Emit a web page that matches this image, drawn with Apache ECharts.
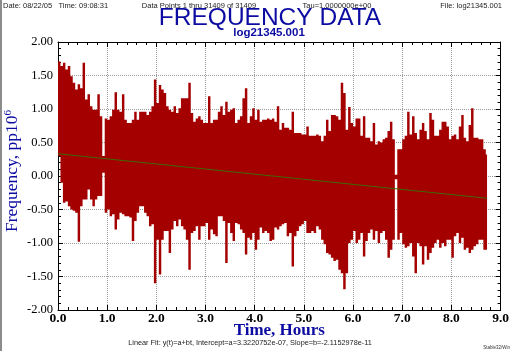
<!DOCTYPE html>
<html>
<head>
<meta charset="utf-8">
<script src="https://cdn.jsdelivr.net/npm/echarts@6/dist/echarts.min.js"></script>
<style>
html,body{margin:0;padding:0;background:#fff;}
#chart{width:512px;height:351px;}
</style>
</head>
<body>
<div id="chart"></div>
<script>
// ---- data ----
const BIN = 0.05;          // hours per envelope bin
const T_END = 8.725;       // last data time, hours
// upper envelope per bin (pp10^6)
const hiVals = [
 1.71,1.64,1.69,1.59,1.64,1.49,1.39,1.29,1.37,1.31,
 1.69,1.14,1.22,1.04,0.99,0.99,1.22,0.89,0.30,0.86,
 0.84,0.89,0.99,1.25,0.99,0.96,1.22,0.84,0.79,0.79,
 0.84,0.96,0.84,0.96,0.96,0.96,0.91,0.96,1.04,1.44,
 1.09,1.36,1.29,1.24,1.04,0.99,0.96,1.04,0.94,1.01,
 1.16,1.16,1.16,1.39,0.94,0.81,0.86,0.89,0.84,0.79,
 0.79,1.19,0.79,0.84,0.84,0.96,1.04,0.91,1.11,0.96,
 0.99,1.01,0.79,0.84,0.89,1.16,1.31,0.79,0.89,1.01,
 0.84,0.99,0.81,0.84,0.84,0.86,0.84,0.86,0.81,1.04,
 0.69,0.79,0.72,0.72,0.69,0.96,0.64,0.64,0.64,0.62,
 0.62,0.74,0.60,0.60,0.60,0.62,0.60,0.52,0.60,0.84,
 0.67,0.91,0.91,0.89,0.84,1.39,1.24,0.69,1.03,0.79,
 0.74,0.86,0.86,0.60,0.89,0.57,0.57,0.52,0.79,0.47,
 0.52,0.50,0.55,0.57,0.67,0.81,0.55,0.02,0.40,0.40,
 0.55,0.60,0.96,0.62,0.89,0.64,0.55,0.69,0.79,0.67,
 0.55,0.94,0.84,0.60,0.60,0.69,0.81,0.81,0.74,0.55,
 0.60,0.62,0.55,0.74,0.91,0.57,0.52,0.76,1.01,0.57,
 0.57,0.55,0.55,0.40,0.32
];
// lower envelope per bin (pp10^6)
const loVals = [
 0.30,-0.10,-0.40,-0.38,-0.45,-0.50,-0.52,-0.55,-0.98,-0.45,
 -0.35,-0.35,-0.20,-0.35,-0.45,-0.35,-0.30,-0.30,0.05,-0.55,
 -0.50,-0.60,-0.57,-0.80,-0.65,-0.55,-0.57,-0.60,-0.60,-0.62,
 -0.97,-0.67,-0.55,-0.45,-0.45,-0.55,-0.60,-0.75,-0.72,-1.60,
 -0.95,-1.47,-0.95,-0.82,-0.82,-1.15,-0.80,-0.67,-0.75,-0.65,
 -0.75,-0.80,-0.95,-1.40,-0.85,-0.82,-0.75,-0.95,-0.75,-0.75,
 -0.70,-0.95,-0.80,-0.87,-0.90,-0.60,-0.60,-0.67,-1.30,-0.70,
 -0.85,-0.97,-0.70,-0.72,-0.80,-0.85,-1.17,-0.92,-0.95,-0.85,
 -1.10,-0.95,-0.77,-0.85,-0.82,-0.85,-0.97,-0.95,-0.77,-0.80,
 -0.75,-0.72,-0.70,-0.90,-0.85,-1.35,-0.90,-0.82,-0.75,-0.72,
 -0.67,-0.85,-0.85,-0.82,-0.85,-0.75,-0.80,-0.95,-1.02,-1.15,
 -1.17,-1.22,-1.27,-1.25,-1.40,-1.45,-1.69,-1.45,-1.00,-0.95,
 -0.82,-1.00,-0.95,-0.85,-1.20,-0.97,-0.85,-0.80,-0.95,-0.82,
 -1.00,-0.85,-0.82,-0.95,-1.22,-1.10,-0.95,-0.05,-0.95,-0.85,
 -1.02,-1.07,-1.05,-1.00,-1.20,-1.45,-1.00,-1.05,-1.32,-1.05,
 -1.25,-1.15,-1.07,-1.00,-0.95,-1.07,-1.00,-1.05,-0.95,-0.95,
 -1.22,-0.90,-0.85,-1.00,-0.92,-1.10,-1.07,-1.15,-1.10,-1.05,
 -1.02,-0.95,-0.95,-1.10,-1.10
];
// linear fit end points (hours, pp10^6)
const fitT = [0, 8.725];
const fitY = [0.332, -0.332];
// tick labels
const xTickLabels = ['0.0','1.0','2.0','3.0','4.0','5.0','6.0','7.0','8.0','9.0'];
const yTickLabels = ['-2.00','-1.50','-1.00','-0.50','0.00','0.50','1.00','1.50','2.00'];

// ---- build ----
const envelope = hiVals.map((h, i) => [+(BIN * (i + 0.5)).toFixed(3), h, loVals[i]]);
const fitData = fitT.map((t, i) => [t, fitY[i]]);

const BLUE = '#0c0ca2';
const chart = echarts.init(document.getElementById('chart'), null, {renderer: 'canvas'});

const gridLine = {show: true, lineStyle: {type: 'dotted', color: '#9a9a9a', width: 1}};
const axLine = {show: true, onZero: false, lineStyle: {color: '#000', width: 1}};
const tick = {show: true, inside: true, length: 5, lineStyle: {color: '#000'}};
const minor = {show: true, splitNumber: 5, length: 3, lineStyle: {color: '#000'}};

// the whole envelope drawn as one stepped polygon through the axes' scales
function renderEnvelope(params, api) {
  if (params.dataIndex !== 0) return null;
  const top = [], bottom = [];
  for (let i = 0; i < envelope.length; i++) {
    const t = envelope[i][0];
    const l = t - BIN / 2, r = Math.min(t + BIN / 2, T_END);
    top.push(api.coord([l, envelope[i][1]]), api.coord([r, envelope[i][1]]));
    bottom.push(api.coord([l, envelope[i][2]]), api.coord([r, envelope[i][2]]));
  }
  const pts = top.concat(bottom.reverse());
  return {type: 'polygon', shape: {points: pts}, style: {fill: '#a40000'}};
}

chart.setOption({
  animation: false,
  backgroundColor: '#fff',
  grid: {left: 58, top: 42, width: 444, height: 268, containLabel: false},
  xAxis: [
    {type: 'value', min: 0, max: 9, interval: 1, position: 'bottom', z: 1,
     axisLine: axLine, axisTick: tick, minorTick: minor, splitLine: gridLine,
     axisLabel: {formatter: v => xTickLabels[Math.round(v)], fontFamily: 'Liberation Serif',
                 fontWeight: 'bold', fontSize: 13.5, color: '#000', margin: 2},
     name: 'Time, Hours', nameLocation: 'middle', nameGap: 12, nameMoveOverlap: false,
     nameTextStyle: {fontFamily: 'Liberation Serif', fontWeight: 'bold', fontSize: 17, color: BLUE,
                     verticalAlign: 'top'}},
    {type: 'value', min: 0, max: 9, interval: 1, position: 'top', z: 1,
     axisLine: axLine, axisTick: tick, minorTick: minor, splitLine: {show: false},
     axisLabel: {show: false}}
  ],
  yAxis: [
    {type: 'value', min: -2, max: 2, interval: 0.5, position: 'left', z: 1,
     axisLine: axLine, axisTick: tick, minorTick: minor, splitLine: gridLine,
     axisLabel: {formatter: v => yTickLabels[Math.round((v + 2) / 0.5)], fontFamily: 'Liberation Serif',
                 fontSize: 12.5, color: '#000', margin: 5}},
    {type: 'value', min: -2, max: 2, interval: 0.5, position: 'right', z: 1,
     axisLine: axLine, axisTick: tick, minorTick: minor, splitLine: {show: false},
     axisLabel: {show: false}}
  ],
  series: [
    {type: 'custom', xAxisIndex: 0, yAxisIndex: 0, data: envelope, clip: true,
     encode: {x: 0, y: [1, 2]}, renderItem: renderEnvelope, z: 10},
    {type: 'line', xAxisIndex: 0, yAxisIndex: 0, data: fitData, symbol: 'none',
     lineStyle: {color: '#3d6a00', width: 1}, z: 11}
  ],
  graphic: [
    {type: 'rect', left: 0, top: 0, shape: {width: 2, height: 351}, style: {fill: '#8c8c8c'}},
    {type: 'text', x: 3, y: 5.5, style: {text: 'Date: 08/22/05   Time: 09:08:31', font: '7.5px "Liberation Sans"', fill: '#222', verticalAlign: 'middle'}},
    {type: 'text', x: 199, y: 5.5, style: {text: 'Data Points 1 thru 31409 of 31409', font: '7.5px "Liberation Sans"', fill: '#222', align: 'center', verticalAlign: 'middle'}},
    {type: 'text', x: 337, y: 5.5, style: {text: 'Tau=1.0000000e+00', font: '7.5px "Liberation Sans"', fill: '#222', align: 'center', verticalAlign: 'middle'}},
    {type: 'text', x: 502, y: 5.5, style: {text: 'File: log21345.001', font: '7.5px "Liberation Sans"', fill: '#222', align: 'right', verticalAlign: 'middle'}},
    {type: 'text', x: 270, y: 18, style: {text: 'FREQUENCY DATA', font: '24.5px "Liberation Sans"', fill: BLUE, align: 'center', verticalAlign: 'middle'}},
    {type: 'text', x: 269, y: 33, style: {text: 'log21345.001', font: 'bold 11.5px "Liberation Sans"', fill: BLUE, align: 'center', verticalAlign: 'middle'}},
    {type: 'text', x: 12, y: 171, rotation: Math.PI / 2,
     style: {text: '{a|Frequency, pp10}{s|6}', align: 'center', verticalAlign: 'middle',
             rich: {a: {fontFamily: 'Liberation Serif', fontSize: 17.5, fill: BLUE, color: BLUE, lineHeight: 18},
                    s: {fontFamily: 'Liberation Serif', fontSize: 11, fill: BLUE, color: BLUE, verticalAlign: 'top', lineHeight: 18, padding: [0, 0, 6, 0]}}}},
    {type: 'text', x: 250, y: 343, style: {text: 'Linear Fit: y(t)=a+bt, Intercept=a=3.3220752e-07, Slope=b=-2.1152978e-11', font: '7.3px "Liberation Sans"', fill: '#222', align: 'center', verticalAlign: 'middle'}},
    {type: 'text', x: 510, y: 348, style: {text: 'Stable32/Win', font: '4.5px "Liberation Sans"', fill: '#333', align: 'right', verticalAlign: 'middle'}}
  ]
});
</script>
</body>
</html>
